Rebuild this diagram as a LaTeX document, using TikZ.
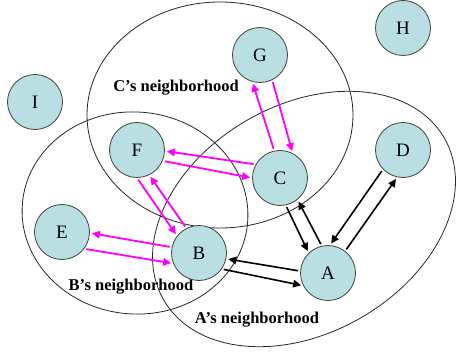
\documentclass[tikz,border=0pt]{standalone}
\usepackage{fontspec}
\setmainfont{Liberation Serif}
\usetikzlibrary{arrows.meta}
\definecolor{nodefill}{RGB}{186,223,226}
\definecolor{mag}{RGB}{255,0,255}
\tikzset{
  peer/.style={circle, draw=black!75, line width=0.8pt, fill=nodefill, minimum size=55pt, inner sep=0pt, font=\fontsize{19}{19}\selectfont},
  hood/.style={draw=black!85, line width=0.8pt},
  hoodlabel/.style={font=\bfseries\fontsize{16.5}{17}\selectfont, inner sep=0pt},
  marr/.style={draw=mag, line width=1.8pt, -{Triangle[length=8pt,width=7.5pt]}, shorten <=2pt, shorten >=2pt},
  barr/.style={draw=black, line width=1.6pt, -{Triangle[length=8pt,width=7.5pt]}, shorten <=2pt, shorten >=2pt}
}
\begin{document}
\begin{tikzpicture}[x=1pt,y=1pt]
\useasboundingbox (0,0) rectangle (456,354);
% neighborhoods
\draw[hood] (220,239) ellipse [x radius=133, y radius=113];
\draw[hood, rotate around={-5:(135,141)}] (135,141) ellipse [x radius=113, y radius=101];
\draw[hood, rotate around={30:(304,135)}] (304,135) ellipse [x radius=162, y radius=114];
% labels
\node[hoodlabel] (lc) at (176,266) {C’s neighborhood};
\node[hoodlabel] (lb) at (131,67) {B’s neighborhood};
\node[hoodlabel] (la) at (257,34) {A’s neighborhood};
% peers
\node[peer] (G) at (260,299) {G};
\node[peer] (H) at (403,326) {H};
\node[peer] (I) at (35,252) {I};
\node[peer] (F) at (137,204) {F};
\node[peer] (C) at (280,176) {C};
\node[peer] (D) at (403,204) {D};
\node[peer] (E) at (62,122) {E};
\node[peer] (B) at (199,101) {B};
\node[peer] (A) at (328,81) {A};
% magenta arrows
\draw[marr] (C.102) -- (G.-106);
\draw[marr] (G.-64) -- (C.63);
\draw[marr] (C.151) -- (F.-2);
\draw[marr] (F.-23) -- (C.180);
\draw[marr] (F.-90) -- (B.142);
\draw[marr] (B.117) -- (F.-64);
\draw[marr] (B.168) -- (E.-2);
\draw[marr] (E.-37) -- (B.202);
% black arrows
\draw[barr] (C.-78) -- (A.134);
\draw[barr] (A.103) -- (C.-51);
\draw[barr] (D.-136) -- (A.86);
\draw[barr] (A.52) -- (D.-102);
\draw[barr] (A.176) -- (B.-12);
\draw[barr] (B.-35) -- (A.207);
\end{tikzpicture}
\end{document}
